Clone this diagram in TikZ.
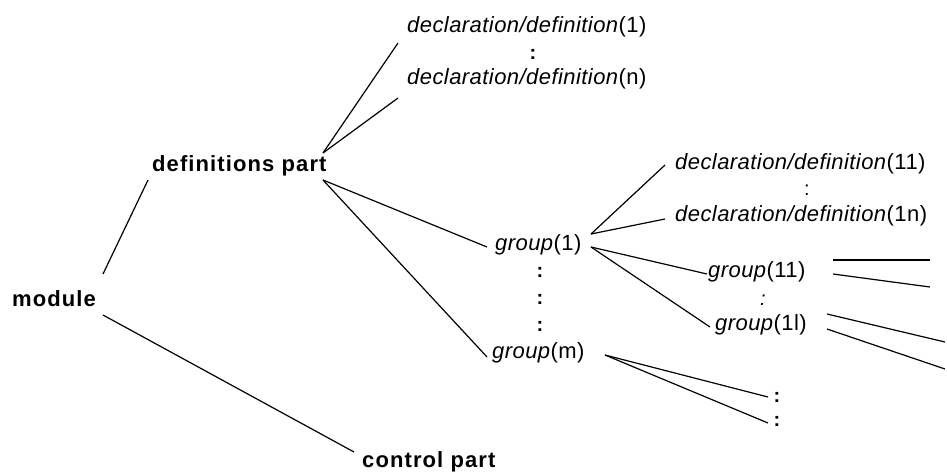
\documentclass[tikz,border=0pt]{standalone}
\usepackage{fontspec}
\setmainfont{Liberation Sans}
\newfontfamily\regsp{Liberation Sans}[LetterSpace=2]
\newfontfamily\boldsp{Liberation Sans}[LetterSpace=5]
\begin{document}
\begin{tikzpicture}[x=1pt,y=-1pt,
  txt/.style={inner sep=0pt, anchor=base west, font=\fontsize{22}{24}\selectfont\regsp},
  bld/.style={inner sep=0pt, anchor=base west, font=\fontsize{22}{24}\selectfont\boldsp\bfseries},
  dotsb/.style={inner sep=0pt, font=\fontsize{20}{22}\selectfont\bfseries},
  dotsn/.style={inner sep=0pt, font=\fontsize{20}{22}\selectfont},
  ln/.style={line width=1.2pt}]
\useasboundingbox (0,0) rectangle (947,472);
% nodes
\node[txt] (d1) at (407,32) {\textit{declaration/definition}(1)};
\node[dotsb] (c1) at (533,54) {:};
\node[txt] (dn) at (407,84) {\textit{declaration/definition}(n)};
\node[bld] (dp) at (152,171) {definitions part};
\node[bld] (mod) at (12,306) {module};
\node[bld] (cp) at (362,467) {control part};
\node[txt] (d11) at (675,169) {\textit{declaration/definition}(11)};
\node[dotsn] (c2) at (807,190) {:};
\node[txt] (d1n) at (675,221) {\textit{declaration/definition}(1n)};
\node[txt] (g1) at (495,250) {\textit{group}(1)};
\node[dotsb] (c3) at (540,272) {:};
\node[dotsb] (c4) at (540,299) {:};
\node[dotsb] (c5) at (540,326) {:};
\node[txt] (gm) at (492,358) {\textit{group}(m)};
\node[txt] (g11) at (708,277) {\textit{group}(11)};
\node[dotsn] (c6) at (763,300) {\textit{:}};
\node[txt] (g1l) at (715,330) {\textit{group}(1l)};
\node[dotsb] (c7) at (777,397) {:};
\node[dotsb] (c8) at (777,421) {:};
% free ends
\coordinate (e1) at (930,260);
\coordinate (e2) at (930,287);
\coordinate (e3) at (945,342);
\coordinate (e4) at (945,369);
% connectors
\draw[ln] ([shift={(91,-32)}]mod.base west) -- ([shift={(-4,9)}]dp.base west);
\draw[ln] ([shift={(91,9)}]mod.base west) -- ([shift={(-8,-15)}]cp.base west);
\draw[ln] ([shift={(171,-18)}]dp.base west) -- ([shift={(-9,11)}]d1.base west);
\draw[ln] ([shift={(171,-18)}]dp.base west) -- ([shift={(-9,14)}]dn.base west);
\draw[ln] ([shift={(171,9)}]dp.base west) -- ([shift={(-8,-3)}]g1.base west);
\draw[ln] ([shift={(171,9)}]dp.base west) -- ([shift={(-5,-1)}]gm.base west);
\draw[ln] ([shift={(96,-16)}]g1.base west) -- ([shift={(-10,-4)}]d11.base west);
\draw[ln] ([shift={(96,-16)}]g1.base west) -- ([shift={(-10,-2)}]d1n.base west);
\draw[ln] ([shift={(96,-3)}]g1.base west) -- ([shift={(-1,-3)}]g11.base west);
\draw[ln] ([shift={(96,-3)}]g1.base west) -- ([shift={(-5,-3)}]g1l.base west);
\draw[ln] ([shift={(125,-17)}]g11.base west) -- (e1);
\draw[ln] ([shift={(125,-3)}]g11.base west) -- (e2);
\draw[ln] ([shift={(112,-16)}]g1l.base west) -- (e3);
\draw[ln] ([shift={(112,-1)}]g1l.base west) -- (e4);
\draw[ln] ([shift={(113,-3)}]gm.base west) -- ([shift={(-9,0)}]c7.center);
\draw[ln] ([shift={(113,-3)}]gm.base west) -- ([shift={(-9,2)}]c8.center);
\end{tikzpicture}
\end{document}
